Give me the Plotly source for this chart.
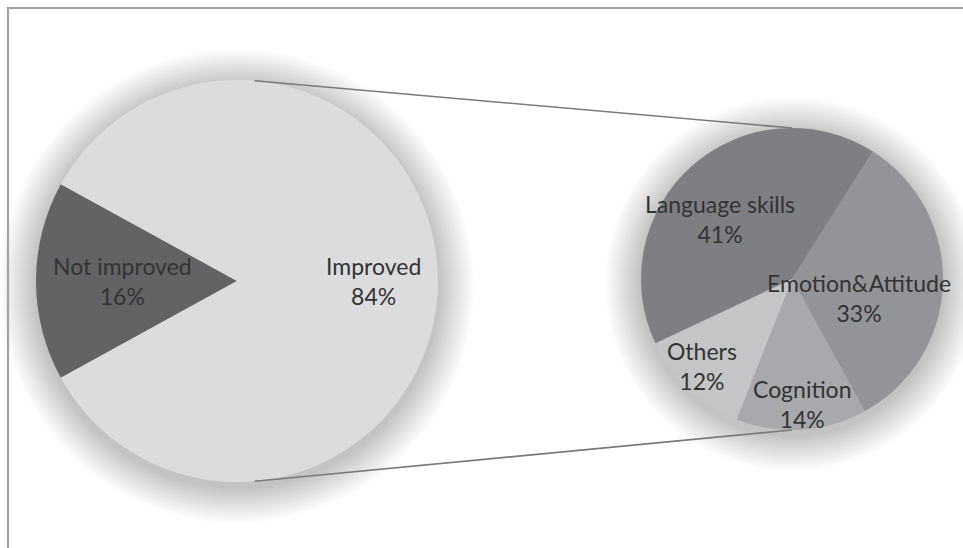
import math
import plotly.graph_objects as go

# Overall outcome
outer_labels = ["Not improved", "Improved"]
outer_values = [16, 84]
outer_colors = ["#636366", "#dcdcde"]

# Breakdown of the improved group
inner_labels = ["Emotion&Attitude", "Cognition", "Others", "Language skills"]
inner_values = [33, 14, 12, 41]
inner_colors = ["#939498", "#a8a9ac", "#c4c5c7", "#7e7f83"]

W, H = 963, 548


def px(x):
    return x / W


def py(y):
    return 1 - y / H


# Pie placement in page pixels: (centre x, centre y, radius)
big = (237, 281, 201)
small = (792, 279, 151)

outer_rotation = 270 - outer_values[0] * 3.6 / 2  # first slice centred on 9 o'clock
inner_rotation = 32.4


def domain(c):
    cx, cy, r = c
    return dict(x=[px(cx - r), px(cx + r)], y=[py(cy + r), py(cy - r)])


fig = go.Figure()
fig.add_trace(go.Pie(
    labels=outer_labels, values=outer_values, sort=False, direction="clockwise",
    rotation=outer_rotation, marker=dict(colors=outer_colors, line=dict(width=0)),
    textinfo="none", hoverinfo="label+percent", domain=domain(big), showlegend=False,
))
fig.add_trace(go.Pie(
    labels=inner_labels, values=inner_values, sort=False, direction="clockwise",
    rotation=inner_rotation, marker=dict(colors=inner_colors, line=dict(width=0)),
    textinfo="none", hoverinfo="label+percent", domain=domain(small), showlegend=False,
))


def point(c, ang, frac=1.0):
    cx, cy, r = c
    a = math.radians(ang)
    return cx + frac * r * math.sin(a), cy - frac * r * math.cos(a)


def mid_angles(values, rotation):
    total = sum(values)
    out, start = [], rotation
    for v in values:
        span = v / total * 360
        out.append(start + span / 2)
        start += span
    return out


# Label placement: (angle nudge in degrees, radial fraction)
outer_label_pos = [(0, 0.57), (0, 0.68)]
inner_label_pos = [(14, 0.46), (-1, 0.83), (3, 0.83), (-9, 0.62)]

annotations = []
for c, labels, values, rot, pos in [
    (big, outer_labels, outer_values, outer_rotation, outer_label_pos),
    (small, inner_labels, inner_values, inner_rotation, inner_label_pos),
]:
    for lab, val, mid, (nudge, frac) in zip(labels, values, mid_angles(values, rot), pos):
        x, y = point(c, mid + nudge, frac)
        annotations.append(dict(
            x=px(x), y=py(y), xref="paper", yref="paper", showarrow=False,
            text=f"{lab}<br>{val}%", xanchor="center", yanchor="middle",
            font=dict(family="Lato, 'Open Sans', sans-serif", size=23, color="#333333"),
        ))

shapes = []
# soft drop shadow halo behind each pie
for c in (big, small):
    cx, cy, r = c
    for k in range(20, 0, -1):
        rr = r + k * 1.8
        oy = cy + 5
        shapes.append(dict(
            type="circle", xref="paper", yref="paper", layer="below",
            x0=px(cx - rr), x1=px(cx + rr), y0=py(oy + rr), y1=py(oy - rr),
            fillcolor="rgba(90,90,90,0.014)", line=dict(width=0),
        ))

# connector lines between the two pies
for a_big, a_small in [(5, 0), (175, 180)]:
    x0, y0 = point(big, a_big)
    x1, y1 = point(small, a_small)
    shapes.append(dict(
        type="line", xref="paper", yref="paper", x0=px(x0), y0=py(y0), x1=px(x1), y1=py(y1),
        line=dict(color="#7a7a7a", width=1.6),
    ))

# chart area frame
shapes.append(dict(
    type="rect", xref="paper", yref="paper", x0=px(8), x1=px(W + 10), y0=py(H + 10), y1=py(8),
    line=dict(color="#a3a3a3", width=2.2), fillcolor="rgba(0,0,0,0)",
))

fig.update_layout(
    width=W, height=H, margin=dict(l=0, r=0, t=0, b=0),
    paper_bgcolor="white", plot_bgcolor="white",
    shapes=shapes, annotations=annotations,
)

fig.write_html("out.html")
